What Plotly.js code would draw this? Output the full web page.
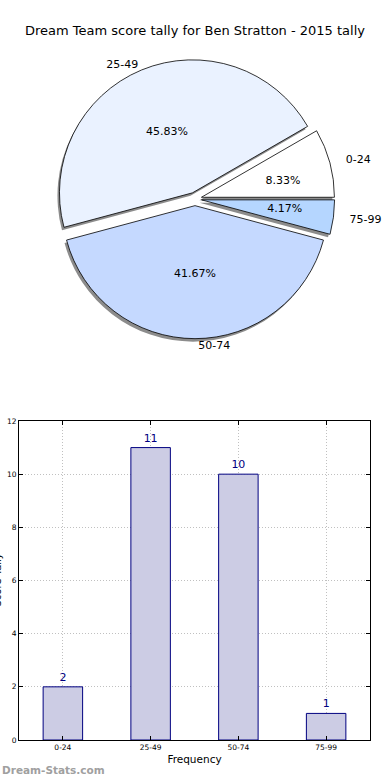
<!DOCTYPE html>
<html><head><meta charset="utf-8">
<script src="https://cdn.plot.ly/plotly-3.0.1.min.js"></script>
<style>html,body{margin:0;padding:0;background:#fff}#chart{width:390px;height:780px}</style>
</head><body><div id="chart"></div>
<script>
// ---- data ----
const categories = ['0-24', '25-49', '50-74', '75-99'];
const frequencies = [2, 11, 10, 1];
const pieColors = ['#ffffff', '#eaf2ff', '#c5d9ff', '#b5d6ff'];
const explode = [0.05, 0.05, 0.05, 0.05];
const yTicks = [0, 2, 4, 6, 8, 10, 12];

// ---- layout helpers ----
const W = 390, H = 780;
const FONT = 'DejaVu Sans, sans-serif';
const cx = 195, cy = 199, R = 133;
function dom(cxp, cyp, half) {
  return {x: [(cxp - half) / W, (cxp + half) / W], y: [1 - (cyp + half) / H, 1 - (cyp - half) / H]};
}
const maxPull = Math.max(...explode);
const pctR = 63;          // ring used to place percentages of thin slices
const lblR = 146;         // ring used to place labels of thin slices
const pctPull = explode.map(p => p * R / pctR);
const lblPull = explode.map(p => p * R / lblR);
const total = frequencies.reduce((a, b) => a + b, 0);
const isSmall = frequencies.map(v => v / total < 0.2);
const PCT = '%{percent:.2%}';
const LBL = '%{label}';
const clear = categories.map(() => 'rgba(0,0,0,0)');

const common = {type: 'pie', values: frequencies, labels: categories, sort: false,
  direction: 'counterclockwise', rotation: 59.999, showlegend: false, automargin: false};

const shadow = Object.assign({}, common, {
  pull: explode,
  marker: {colors: categories.map(() => '#8c8c8c'), line: {width: 0}},
  textinfo: 'none', hoverinfo: 'skip',
  domain: dom(cx - 2, cy + 3, R * (1 + maxPull))
});
const main = Object.assign({}, common, {
  pull: explode,
  marker: {colors: pieColors, line: {color: '#000000', width: 0.8}},
  texttemplate: isSmall.map(s => s ? '' : LBL), textposition: 'outside',
  outsidetextfont: {family: FONT, size: 11, color: '#000'},
  hoverinfo: 'label+percent',
  domain: dom(cx, cy, R * (1 + maxPull))
});
const lblSmall = Object.assign({}, common, {
  pull: lblPull, rotation: 60,
  marker: {colors: clear, line: {width: 0}},
  texttemplate: isSmall.map(s => s ? LBL : ''), textposition: 'outside',
  outsidetextfont: {family: FONT, size: 11, color: '#000'},
  hoverinfo: 'skip',
  domain: dom(cx, cy, lblR * (1 + Math.max(...lblPull)))
});
const pctSmall = Object.assign({}, common, {
  pull: pctPull, rotation: 60,
  marker: {colors: clear, line: {width: 0}},
  texttemplate: isSmall.map(s => s ? PCT : ''), textposition: 'outside',
  outsidetextfont: {family: FONT, size: 11, color: '#000'},
  hoverinfo: 'skip',
  domain: dom(cx, cy, pctR * (1 + Math.max(...pctPull)))
});
const pctLarge = Object.assign({}, common, {
  pull: explode, rotation: 60,
  marker: {colors: clear, line: {width: 0}},
  texttemplate: isSmall.map(s => s ? '' : PCT), textposition: 'inside', insidetextorientation: 'horizontal',
  insidetextfont: {family: FONT, size: 11, color: '#000'},
  hoverinfo: 'skip',
  domain: dom(cx, cy, R * (1 + maxPull))
});

const bars = {
  type: 'bar', x: categories, y: frequencies, width: 0.45,
  marker: {color: '#ccccE4', line: {color: '#000080', width: 1}},
  text: frequencies.map(String), textposition: 'outside', cliponaxis: false,
  textfont: {family: FONT, size: 11, color: '#000080'},
  hoverinfo: 'x+y', xaxis: 'x', yaxis: 'y', showlegend: false
};

const axisCommon = {
  showgrid: true, gridcolor: '#c0c0c0', griddash: '1px,2px', gridwidth: 1,
  showline: true, mirror: 'ticks', linecolor: '#000', linewidth: 1,
  ticks: 'inside', ticklen: 4, tickcolor: '#000', zeroline: false,
  tickfont: {family: FONT, size: 7.5, color: '#000'}, automargin: false, fixedrange: true
};

const layout = {
  width: W, height: H, margin: {l: 0, r: 0, t: 0, b: 0},
  paper_bgcolor: '#fff', plot_bgcolor: '#fff', showlegend: false,
  font: {family: FONT, color: '#000'},
  uniformtext: {minsize: 11, mode: 'show'},
  title: {text: 'Dream Team score tally for Ben Stratton - 2015 tally', x: 0.5, xanchor: 'center',
          y: 1 - 30 / H, yanchor: 'middle', yref: 'container', font: {family: FONT, size: 13, color: '#000'}},
  xaxis: Object.assign({}, axisCommon, {
    domain: [19 / W, 370 / W], range: [-0.5, 3.5], type: 'category', anchor: 'y',
    title: {text: 'Frequency', font: {family: FONT, size: 10.5, color: '#000'}, standoff: 4}
  }),
  yaxis: Object.assign({}, axisCommon, {
    domain: [1 - 740 / H, 1 - 421 / H], range: [0, 12], tickvals: yTicks, anchor: 'x'
  }),
  annotations: [
    {text: 'Score Tally', xref: 'paper', yref: 'paper', x: -3.5 / W, y: 1 - 580 / H,
     xanchor: 'center', yanchor: 'middle', textangle: -90, showarrow: false,
     font: {family: FONT, size: 10, color: '#000'}},
    {text: 'Dream-Stats.com', xref: 'paper', yref: 'paper', x: 0, y: 1 - 770 / H,
     xanchor: 'left', yanchor: 'middle', showarrow: false,
     font: {family: FONT, size: 10.5, color: '#a0a0a0', weight: 'bold'}}
  ]
};

Plotly.newPlot('chart', [shadow, main, lblSmall, pctSmall, pctLarge, bars], layout,
  {displayModeBar: false, staticPlot: true});
</script>
</body></html>
